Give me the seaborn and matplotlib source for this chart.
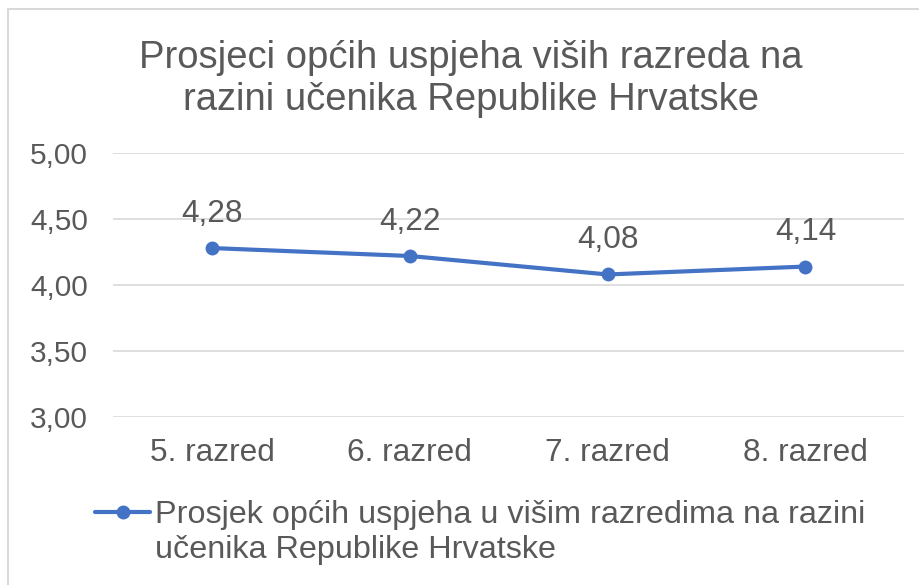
import pandas as pd
import numpy as np
import matplotlib.pyplot as plt
import matplotlib.ticker as mticker
from matplotlib.patches import Rectangle
import seaborn as sns

# Podaci
razredi = ['5. razred', '6. razred', '7. razred', '8. razred']
prosjeci = [4.28, 4.22, 4.08, 4.14]
y_ticks = [3.00, 3.50, 4.00, 4.50, 5.00]
naslov = 'Prosjeci općih uspjeha viših razreda na\nrazini učenika Republike Hrvatske'
legenda_1 = 'Prosjek općih uspjeha u višim razredima na razini'
legenda_2 = 'učenika Republike Hrvatske'

sns.set_style('white')
plt.rcParams['font.family'] = ['Liberation Sans', 'DejaVu Sans']

siva = '#595959'
plava = '#4472C4'

df = pd.DataFrame({'Razred': razredi, 'Prosjek': prosjeci})

fig = plt.figure(figsize=(9.19, 5.85), dpi=100)
ax = fig.add_axes([0.123, 0.287, 0.861, 0.4515])

sns.lineplot(data=df, x='Razred', y='Prosjek', ax=ax, color=plava,
             linewidth=3, marker='o', markersize=10, markeredgewidth=0,
             label=legenda_1, sort=False)

# Oznake podataka
for i, v in enumerate(prosjeci):
    ax.annotate(f'{v:.2f}'.replace('.', ','), (i, v), xytext=(0, 14),
                textcoords='offset points', ha='center', va='bottom',
                fontsize=22.8, color=siva)

ax.set_ylim(3.0, 5.0)
ax.set_xlim(-0.5, 3.5)
ax.set_yticks(y_ticks)
ax.yaxis.set_major_formatter(mticker.FuncFormatter(lambda v, p: f'{v:.2f}'.replace('.', ',')))
ax.grid(axis='y', color='#D9D9D9', linewidth=1.2)
ax.grid(axis='x', visible=False)
for s in ax.spines.values():
    s.set_visible(False)
ax.tick_params(axis='both', length=0, labelcolor=siva)
ax.tick_params(axis='y', pad=18, labelsize=21.5)
ax.tick_params(axis='x', pad=15, labelsize=22.8)
ax.set_xlabel('')
ax.set_ylabel('')

fig.text(0.512, 1 - 79 / 585, naslov, ha='center', va='center', fontsize=27.5,
         color=siva, linespacing=1.22)

leg = ax.legend(loc='center left', bbox_to_anchor=(95 / 919, 1 - 515 / 585),
                bbox_transform=fig.transFigure, frameon=False, fontsize=23.3,
                handlelength=1.7, handletextpad=0.15, borderpad=0, borderaxespad=0,
                labelcolor=siva)
fig.text(155 / 919, 1 - 550 / 585, legenda_2, ha='left', va='center', fontsize=23.3, color=siva)

# Okvir grafikona
fig.patches.append(Rectangle((8 / 919, -0.05), 1.1, 1.05 - 9 / 585, transform=fig.transFigure,
                             fill=False, edgecolor='#D9D9D9', linewidth=1.5))

fig.savefig('out.png', dpi=100)
